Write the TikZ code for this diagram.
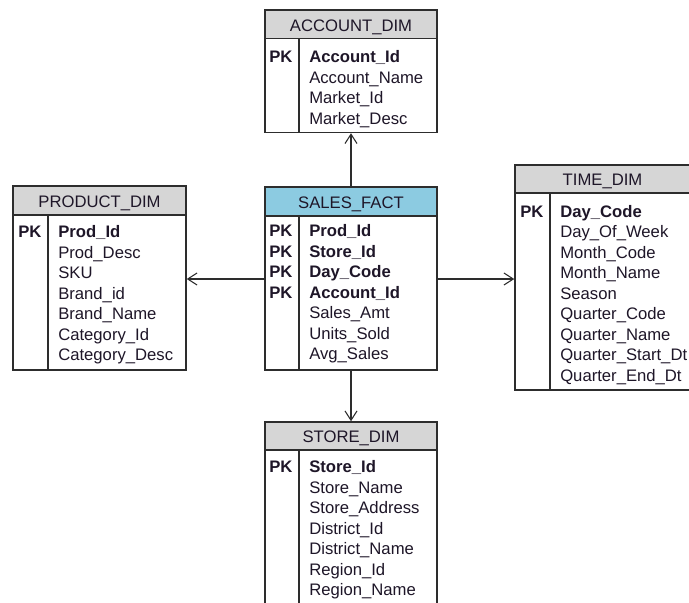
\documentclass[tikz,border=0pt]{standalone}
\usepackage{fontspec}
\setmainfont{Liberation Sans}
\usetikzlibrary{arrows.meta,fit}
\definecolor{hdrgrey}{RGB}{214,214,214}
\definecolor{factblue}{RGB}{140,203,225}
\definecolor{edge}{RGB}{45,45,45}
\definecolor{ink}{RGB}{30,22,40}

% one column of field names, baselines 20.5px apart
\newcommand\fieldcol[4]{%
  \foreach \t [count=\i] in {#4}
    \node[fld] (#1-\i) at (#2,{#3+(\i-1)*20.5}) {\t};}

\begin{document}
\begin{tikzpicture}[x=0.75pt,y=-0.75pt,
  font=\fontsize{12.5}{14}\selectfont,
  frame/.style={draw=edge, line width=1.1pt, inner sep=0pt},
  hdr/.style={frame, fill=hdrgrey},
  facthdr/.style={hdr, fill=factblue},
  body/.style={frame, fill=white},
  ttl/.style={text=ink, inner sep=0pt, text height=0.716em, text depth=0pt, yshift=-1.5pt},
  divider/.style={draw=edge, line width=1.1pt},
  fld/.style={text=ink, inner sep=0pt, anchor=base west},
  link/.style={draw=edge, line width=0.8pt, -{Straight Barb[length=7pt,width=9pt]}}]

\useasboundingbox (0,0) rectangle (689,603);
\clip (0,0) rectangle (689,603);
\fill[white] (0,0) rectangle (689,603);

% ACCOUNT_DIM
\node[hdr, fit={(265,10) (437,38.5)}] (acch) {};
\node[ttl] (acct) at (acch.center) {ACCOUNT\_DIM};
\node[body, fit={(265,38.5) (437,132.5)}] (accb) {};
\draw[divider] (299,38.5) -- (299,132.5);
\fieldcol{accpk}{269}{62.5}{\bfseries PK}
\fieldcol{acc}{309}{62.5}{{\bfseries Account\_Id}, Account\_Name, Market\_Id, Market\_Desc}

% SALES_FACT
\node[facthdr, fit={(265,187) (437,216)}] (facth) {};
\node[ttl] (factt) at (facth.center) {SALES\_FACT};
\node[body, fit={(265,216) (437,370)}] (factb) {};
\draw[divider] (299,216) -- (299,370);
\fieldcol{factpk}{269}{236.5}{\bfseries PK, \bfseries PK, \bfseries PK, \bfseries PK}
\fieldcol{fact}{309}{236.5}{{\bfseries Prod\_Id}, {\bfseries Store\_Id}, {\bfseries Day\_Code}, {\bfseries Account\_Id}, Sales\_Amt, Units\_Sold, Avg\_Sales}

% PRODUCT_DIM
\node[hdr, fit={(13,186) (186,215)}] (prodh) {};
\node[ttl] (prodt) at (prodh.center) {PRODUCT\_DIM};
\node[body, fit={(13,215) (186,370)}] (prodb) {};
\draw[divider] (48,215) -- (48,370);
\fieldcol{prodpk}{18}{237.5}{\bfseries PK}
\fieldcol{prod}{58}{237.5}{{\bfseries Prod\_Id}, Prod\_Desc, SKU, Brand\_id, Brand\_Name, Category\_Id, Category\_Desc}

% TIME_DIM
\node[hdr, fit={(515,165) (690,193)}] (timeh) {};
\node[ttl] (timet) at (timeh.center) {TIME\_DIM};
\node[body, fit={(515,193) (690,390)}] (timeb) {};
\draw[divider] (550,193) -- (550,390);
\fieldcol{timepk}{520}{217}{\bfseries PK}
\fieldcol{time}{560}{217}{{\bfseries Day\_Code}, Day\_Of\_Week, Month\_Code, Month\_Name, Season, Quarter\_Code, Quarter\_Name, Quarter\_Start\_Dt, Quarter\_End\_Dt}

% STORE_DIM
\node[hdr, fit={(265,422) (437,450)}] (storeh) {};
\node[ttl] (storet) at (storeh.center) {STORE\_DIM};
\node[body, fit={(265,450) (437,612)}] (storeb) {};
\draw[divider] (299,450) -- (299,612);
\fieldcol{storepk}{269}{472.5}{\bfseries PK}
\fieldcol{store}{309}{472.5}{{\bfseries Store\_Id}, Store\_Name, Store\_Address, District\_Id, District\_Name, Region\_Id, Region\_Name}

% connectors from the fact table to each dimension
\coordinate (midrow) at (0,279);
\draw[link] (facth.north) -- (accb.south);
\draw[link] (factb.west |- midrow) -- (prodb.east |- midrow);
\draw[link] (factb.east |- midrow) -- (timeb.west |- midrow);
\draw[link] (factb.south) -- (storeh.north);
\end{tikzpicture}
\end{document}
